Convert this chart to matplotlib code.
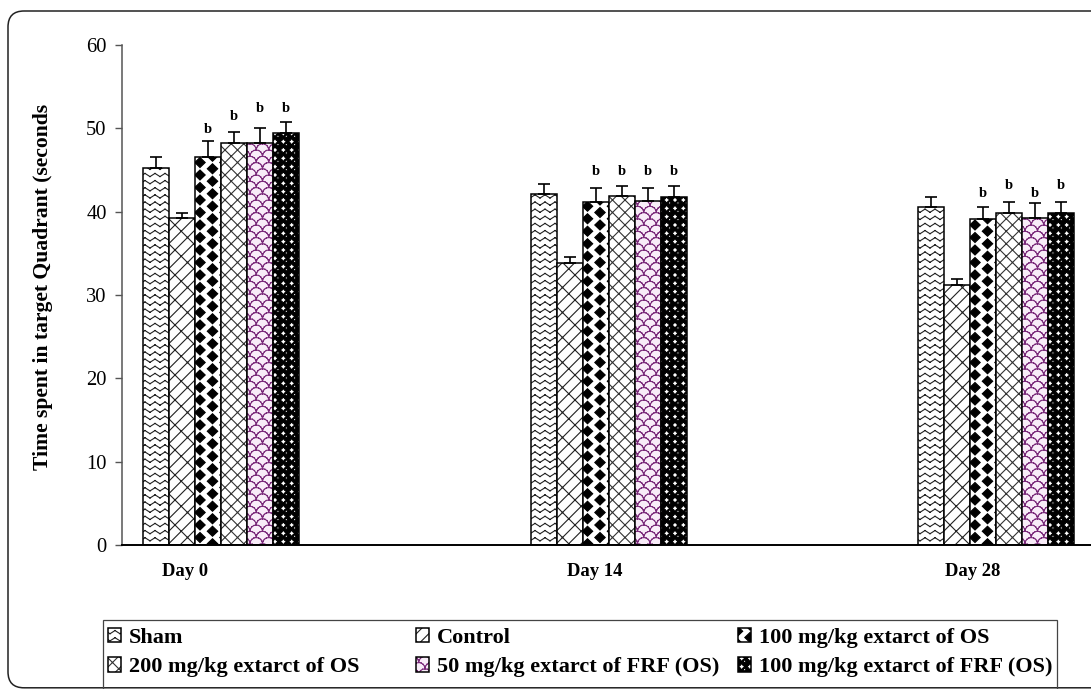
import warnings
warnings.filterwarnings('ignore')
import numpy as np
import matplotlib
matplotlib.use('Agg')
import matplotlib.pyplot as plt
import matplotlib.hatch as mhatch
import matplotlib.colors as mcolors
from matplotlib.path import Path
from matplotlib.patches import FancyBboxPatch, Rectangle

# ---------------- data ----------------
days = ['Day 0', 'Day 14', 'Day 28']
groups = ['Sham', 'Control', '100 mg/kg extarct of OS', '200 mg/kg extarct of OS',
          '50 mg/kg extarct of FRF (OS)', '100 mg/kg extarct of FRF (OS)']
sham = [45.3, 42.1, 40.6]
control = [39.3, 33.9, 31.2]
os100 = [46.6, 41.1, 39.1]
os200 = [48.2, 41.9, 39.9]
frf50 = [48.2, 41.3, 39.2]
frf100 = [49.4, 41.7, 39.9]
sham_err = [1.3, 1.2, 1.2]
control_err = [0.6, 0.7, 0.7]
os100_err = [1.9, 1.7, 1.5]
os200_err = [1.3, 1.2, 1.2]
frf50_err = [1.8, 1.5, 1.8]
frf100_err = [1.4, 1.4, 1.3]
sig_letter = 'b'
sig_os100 = [49.4, 44.4, 41.8]
sig_os200 = [51.0, 44.4, 42.7]
sig_frf50 = [52.0, 44.4, 41.8]
sig_frf100 = [52.0, 44.4, 42.7]
y_ticks = [0, 10, 20, 30, 40, 50, 60]
y_label = 'Time spent in target Quadrant (seconds'

values = [sham, control, os100, os200, frf50, frf100]
errors = [sham_err, control_err, os100_err, os200_err, frf50_err, frf100_err]
sig_heights = {2: sig_os100, 3: sig_os200, 4: sig_frf50, 5: sig_frf100}

# ---------------- custom hatch patterns ----------------
def segs_vc(segs):
    segs = np.asarray(segs, float)
    v = np.empty((2 * len(segs), 2))
    v[0::2] = segs[:, :2]
    v[1::2] = segs[:, 2:]
    c = np.empty(2 * len(segs), dtype=Path.code_type)
    c[0::2] = Path.MOVETO
    c[1::2] = Path.LINETO
    return v, c

def polys_vc(polys):
    vs, cs = [], []
    for p in polys:
        p = np.asarray(p, float)
        vs.append(np.vstack([p, p[:1]]))
        cc = np.full(len(p) + 1, Path.LINETO, dtype=Path.code_type)
        cc[0] = Path.MOVETO
        cc[-1] = Path.CLOSEPOLY
        cs.append(cc)
    return np.vstack(vs), np.concatenate(cs)

def zigzag():
    segs = []
    rows, per, amp = 14, 10, 0.016
    for r in range(rows):
        y0 = (r + 0.5) / rows
        for k in range(per):
            xa, xb, xc = k / per, (k + 0.5) / per, (k + 1) / per
            segs.append((xa, y0 - amp, xb, y0 + amp))
            segs.append((xb, y0 + amp, xc, y0 - amp))
    return segs_vc(segs)

def brick():
    n, m = 8, 8
    segs = []
    for k in range(-8, 8):
        c = k / n
        segs.append((-0.2, -0.2 + c, 1.2, 1.2 + c))
        for j in range(-2, 10):
            x = (j + 0.5 * (k % 2)) / m
            y = x + c
            if -0.2 < y < 1.2 and -0.2 < x < 1.2:
                segs.append((x, y, x - 0.5 / n, y + 0.5 / n))
    return segs_vc(segs)

def cross():
    n = 8
    segs = []
    for k in range(-8, 8):
        c = k / n
        segs.append((-0.2, -0.2 + c, 1.2, 1.2 + c))
    for k in range(0, 17):
        d = k / n
        segs.append((-0.2, d + 0.2, 1.2, d - 1.2))
    return segs_vc(segs)

def diamonds():
    polys = []
    hw, hh = 0.052, 0.05
    for i in range(-1, 10):
        for j in range(-1, 18):
            if (i + j) % 2:
                continue
            cx, cy = i / 8, j / 16
            polys.append([(cx + hw, cy), (cx, cy + hh), (cx - hw, cy), (cx, cy - hh)])
    return polys_vc(polys)

def scales():
    segs = []
    r = 1 / 16
    th = np.linspace(0, np.pi, 9)
    for j in range(-1, 18):
        for i in range(-1, 10):
            cx = (i + 0.5 * (j % 2)) / 8
            cy = j / 16
            xs = cx + r * np.cos(th)
            ys = cy + r * np.sin(th)
            for a in range(len(th) - 1):
                segs.append((xs[a], ys[a], xs[a + 1], ys[a + 1]))
    return segs_vc(segs)

def spheres():
    polys = []
    n = 12
    R, rh = 0.04, 0.012
    t = np.linspace(0, 2 * np.pi, 17)[:-1]
    for i in range(-1, n + 1):
        for j in range(-1, n + 1):
            cx, cy = (i + 0.5) / n, (j + 0.5) / n
            polys.append(list(zip(cx + R * np.cos(t), cy + R * np.sin(t))))
            hx, hy = cx - 0.012, cy + 0.012
            polys.append(list(zip(hx + rh * np.cos(-t), hy + rh * np.sin(-t))))
    return polys_vc(polys)

def register(char, builder):
    verts, codes = builder()

    class H(mhatch.HatchPatternBase):
        def __init__(self, hatch, density):
            self.num_vertices = len(verts) if (hatch and char in hatch) else 0

        def set_vertices_and_codes(self, vertices, cds):
            vertices[:] = verts
            cds[:] = codes
    mhatch._hatch_types.append(H)

register('z', zigzag)
register('w', brick)
register('k', cross)
register('d', diamonds)
register('s', scales)
register('b', spheres)

hatches = ['z', 'w', 'd', 'k', 's', 'b']
faces = ['white', 'white', 'white', 'white', '#F8ECF8', 'white']
hatch_cols = ['#222222', '#222222', 'black', '#333333', '#7A2A7A', 'black']

plt.rcParams['hatch.linewidth'] = 0.8
serif = ['Liberation Serif', 'DejaVu Serif']

# ---------------- figure ----------------
W, H = 1091, 689
fig = plt.figure(figsize=(W / 100, H / 100), dpi=100)
ax = fig.add_axes([122 / W, 1 - 545 / H, 1 - 122 / W, 500 / H])

x = np.arange(len(days))
bw = 26 / 387.5
handles = []
for gi, (vals, errs) in enumerate(zip(values, errors)):
    pos = x + (gi - 2.5) * bw
    bc = ax.bar(pos, vals, width=bw, facecolor=faces[gi], edgecolor='black',
                linewidth=1.1, hatch=hatches[gi], label=groups[gi], zorder=2)
    for p in bc.patches:
        p._hatch_color = mcolors.to_rgba(hatch_cols[gi])
    handles.append(bc)
    ax.errorbar(pos, vals, yerr=[np.zeros(len(vals)), errs], fmt='none',
                ecolor='black', elinewidth=1.2, capsize=4, capthick=1.2, zorder=3)
    if gi in sig_heights:
        for xi, yv in zip(pos, sig_heights[gi]):
            ax.text(xi, yv, sig_letter, ha='center', va='baseline',
                    family=serif, weight='bold', fontsize=10.5)

ax.set_xlim((122 - 221) / 387.5, (W - 221) / 387.5)
ax.set_ylim(0, 60)
ax.set_yticks(y_ticks)
ax.set_yticklabels([str(t) for t in y_ticks], family=serif, fontsize=14.8)
ax.tick_params(axis='y', direction='out', length=5, width=1.0, color='#555555', pad=6)
label_pos = [-0.093, 0.965, 1.941]
ax.set_xticks(label_pos)
ax.set_xticklabels(days, family=serif, weight='bold', fontsize=13.4)
ax.tick_params(axis='x', length=0, pad=13)
for s in ['top', 'right']:
    ax.spines[s].set_visible(False)
ax.spines['left'].set_color('#555555')
ax.spines['left'].set_linewidth(1.1)
ax.spines['bottom'].set_color('black')
ax.spines['bottom'].set_linewidth(1.4)
ax.patch.set_visible(False)

fig.text(43 / W, 1 - 287 / H, y_label, rotation=90, ha='center', va='center',
         family=serif, weight='bold', fontsize=15.6)

# outer rounded border
border = FancyBboxPatch((0.08, 0.012), 11.6, 6.768,
                        boxstyle='round,pad=0,rounding_size=0.16',
                        transform=fig.dpi_scale_trans, fill=False,
                        edgecolor='#222222', linewidth=1.1)
fig.add_artist(border)

# legend frame
frame = Rectangle((1.03, -0.3), 9.54, 0.69 + 0.3, transform=fig.dpi_scale_trans,
                  fill=False, edgecolor='#444444', linewidth=0.9)
fig.add_artist(frame)

leg_prop = dict(family=serif, weight='bold', size=16)
col_x = [108, 416, 738]
cols = [[0, 3], [1, 4], [2, 5]]
for cx, idx in zip(col_x, cols):
    lg = fig.legend([handles[i] for i in idx], [groups[i] for i in idx],
                    loc='upper left', bbox_to_anchor=(cx / W, 1 - 628 / H),
                    frameon=False, prop=leg_prop, handlelength=0.6,
                    handleheight=0.6, handletextpad=0.35, labelspacing=0.42,
                    borderpad=0, borderaxespad=0)

fig.savefig('out.png', dpi=100)
